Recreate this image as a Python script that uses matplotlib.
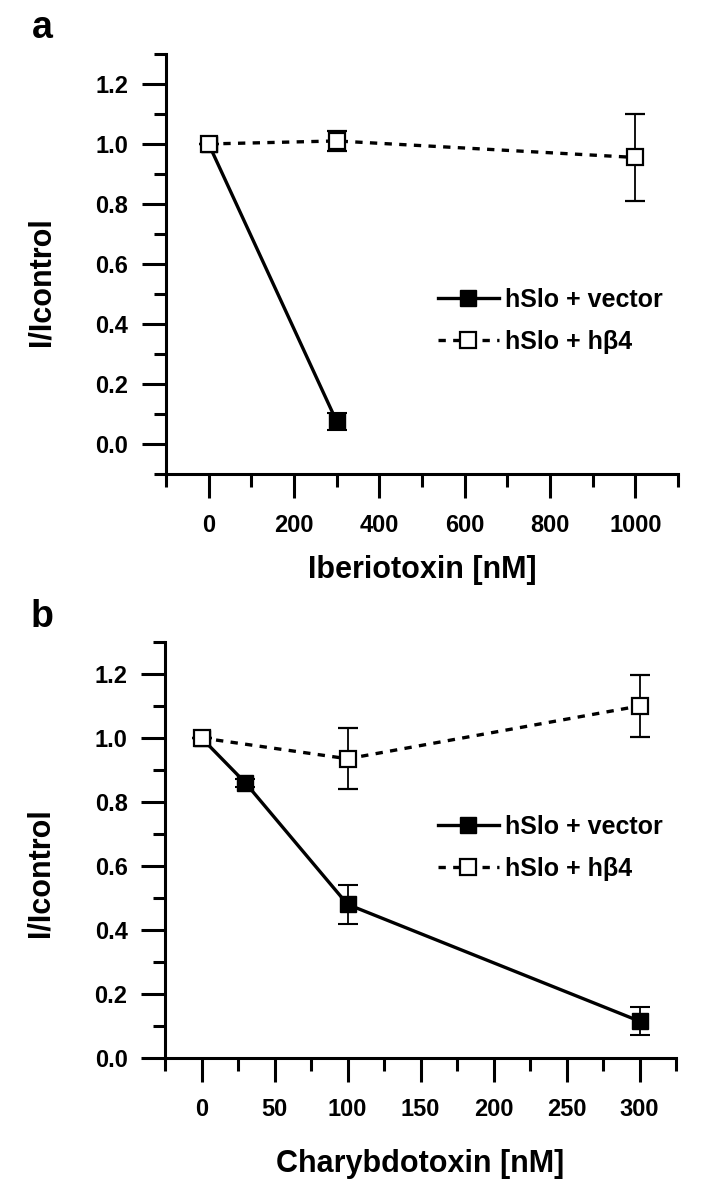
#!/usr/bin/env python3
'''
Two panel plot of relative current (I/Icontrol) against toxin concentration
for hSlo + vector and hSlo + hbeta4.
'''

import matplotlib
matplotlib.use('Agg')
import matplotlib.pyplot as plt
from matplotlib.lines import Line2D
from matplotlib.ticker import MultipleLocator

plt.rcParams['font.family'] = ['Liberation Sans', 'DejaVu Sans']
plt.rcParams['font.weight'] = 'bold'

# Panel a: Iberiotoxin
ibtx_vec_x = [0, 300]
ibtx_vec_y = [1.0, 0.075]
ibtx_vec_err = [0.0, 0.028]
ibtx_b4_x = [0, 300, 1000]
ibtx_b4_y = [1.0, 1.01, 0.955]
ibtx_b4_err = [0.0, 0.032, 0.145]

# Panel b: Charybdotoxin
chtx_vec_x = [0, 30, 100, 300]
chtx_vec_y = [1.0, 0.86, 0.48, 0.115]
chtx_vec_err = [0.0, 0.012, 0.06, 0.043]
chtx_b4_x = [0, 100, 300]
chtx_b4_y = [1.0, 0.935, 1.10]
chtx_b4_err = [0.0, 0.095, 0.097]

LABEL_VEC = 'hSlo + vector'
LABEL_B4 = 'hSlo + h\u03b24'
YTICKS = [0.0, 0.2, 0.4, 0.6, 0.8, 1.0, 1.2]
DASHES = (0, (2.2, 2.2))


def style_axes(ax, xlim, ylim, xmajor, xminor, xlabel, xlabelpad, ylabel_y):
    '''Only left/bottom spines, heavy ticks pointing outwards.'''
    for side in ('top', 'right'):
        ax.spines[side].set_visible(False)
    for side in ('left', 'bottom'):
        ax.spines[side].set_linewidth(2.2)
    ax.set_xlim(*xlim)
    ax.set_ylim(*ylim)
    ax.xaxis.set_major_locator(MultipleLocator(xmajor))
    ax.xaxis.set_minor_locator(MultipleLocator(xminor))
    ax.set_yticks(YTICKS)
    ax.set_yticklabels(['{:.1f}'.format(v) for v in YTICKS])
    ax.yaxis.set_minor_locator(MultipleLocator(0.1))
    ax.tick_params(which='major', direction='out', length=17, width=2.2,
                   labelsize=17)
    ax.tick_params(axis='x', which='major', pad=12)
    ax.tick_params(axis='y', which='major', pad=10)
    ax.tick_params(which='minor', direction='out', length=9, width=2.2)
    ax.set_xlabel(xlabel, fontsize=22, fontweight='bold', labelpad=xlabelpad)
    ax.set_ylabel('I/Icontrol', fontsize=22, fontweight='bold')
    ax.yaxis.set_label_coords(-0.214, ylabel_y)


def draw_panel(ax, vx, vy, verr, bx, by, berr, leg_xy):
    # filled squares, solid line
    ax.errorbar(vx, vy, yerr=verr, color='black', linestyle='-', linewidth=2.4,
                marker='s', markersize=11, markerfacecolor='black',
                markeredgecolor='black', elinewidth=1.3, capsize=7,
                capthick=1.5, zorder=3)
    # open squares, dashed line
    ax.errorbar(bx, by, yerr=berr, color='black', linestyle=DASHES,
                linewidth=2.4, marker='s', markersize=11,
                markerfacecolor='white', markeredgecolor='black',
                markeredgewidth=1.6, elinewidth=1.3, capsize=7,
                capthick=1.5, zorder=4)
    # legend handles without the error bars
    handles = [
        Line2D([], [], color='black', linestyle='-', linewidth=2.4,
               marker='s', markersize=11, markerfacecolor='black'),
        Line2D([], [], color='black', linestyle=DASHES, linewidth=2.4,
               marker='s', markersize=11, markerfacecolor='white',
               markeredgewidth=1.6),
    ]
    ax.legend(handles, [LABEL_VEC, LABEL_B4], loc='upper left',
              bbox_to_anchor=leg_xy, frameon=False, fontsize=18,
              handlelength=2.44, handletextpad=0.25, labelspacing=0.72,
              borderpad=0, borderaxespad=0)


def main():
    fig = plt.figure(figsize=(7.01, 11.99), dpi=100)

    ax1 = fig.add_axes([0.2368, 0.6047, 0.7304, 0.3503])
    style_axes(ax1, (-100, 1100), (-0.1, 1.3), 200, 100, 'Iberiotoxin [nM]',
               13, 0.457)
    draw_panel(ax1, ibtx_vec_x, ibtx_vec_y, ibtx_vec_err,
               ibtx_b4_x, ibtx_b4_y, ibtx_b4_err, (0.531, 0.443))

    ax2 = fig.add_axes([0.2354, 0.1176, 0.7290, 0.3470])
    style_axes(ax2, (-25, 325), (0.0, 1.3), 50, 25, 'Charybdotoxin [nM]',
               20, 0.445)
    draw_panel(ax2, chtx_vec_x, chtx_vec_y, chtx_vec_err,
               chtx_b4_x, chtx_b4_y, chtx_b4_err, (0.534, 0.584))

    # panel letters
    fig.text(0.06, 0.977, 'a', fontsize=27, fontweight='bold',
             ha='center', va='center')
    fig.text(0.06, 0.485, 'b', fontsize=27, fontweight='bold',
             ha='center', va='center')

    fig.savefig('out.png', dpi=100)


if __name__ == "__main__":
    main()
